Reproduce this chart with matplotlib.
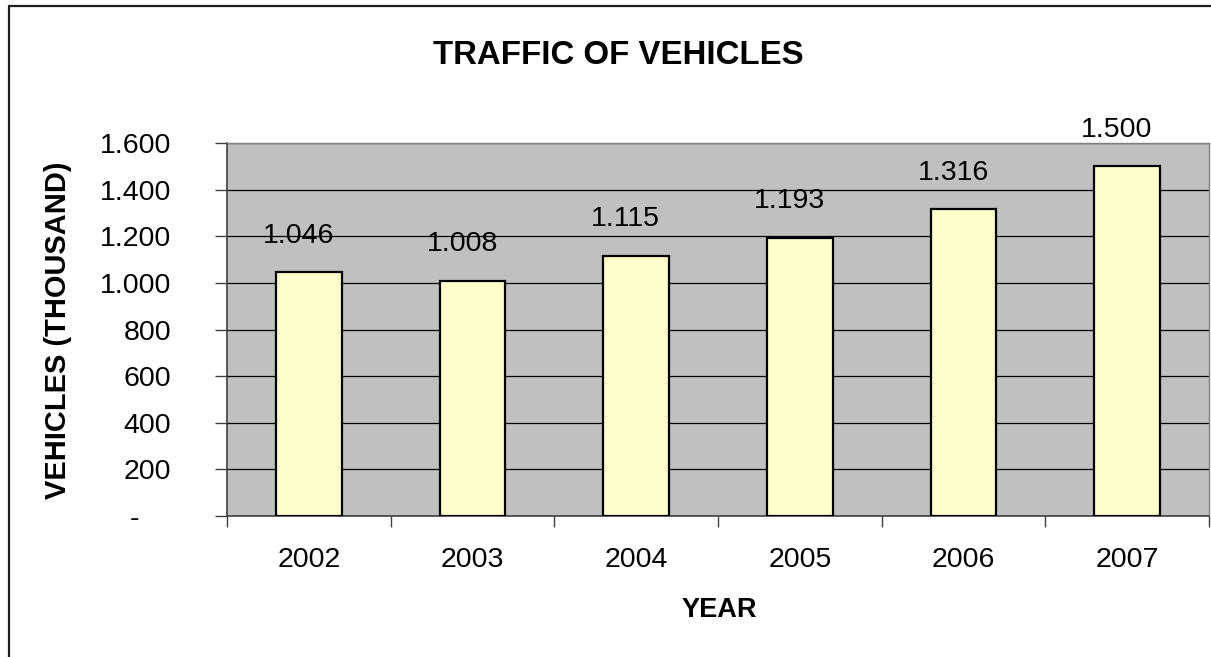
import matplotlib
matplotlib.use("Agg")
import matplotlib.pyplot as plt
from matplotlib.patches import Rectangle
from matplotlib.ticker import FixedLocator, FuncFormatter
import numpy as np

years = ["2002", "2003", "2004", "2005", "2006", "2007"]
vehicles = [1046, 1008, 1115, 1193, 1316, 1500]
yticks = [0, 200, 400, 600, 800, 1000, 1200, 1400, 1600]

plt.rcParams['font.family'] = ['Liberation Sans', 'DejaVu Sans']

W, H = 1211, 657
fig = plt.figure(figsize=(W / 100, H / 100), dpi=100)
ax = fig.add_axes([227 / W, 1 - 516 / H, (1209 - 227) / W, (516 - 143) / H])

ax.set_facecolor('#C0C0C0')
x = np.arange(len(years))
bars = ax.bar(x, vehicles, width=0.4, color='#FFFFCC', edgecolor='black', linewidth=1.6, zorder=3)

ax.set_xlim(-0.5, len(years) - 0.5)
ax.set_ylim(0, 1600)
ax.yaxis.set_major_locator(FixedLocator(yticks))
ax.yaxis.grid(True, color='black', linewidth=0.9, zorder=1)
ax.set_axisbelow(True)


def fmt(v, pos=None):
    if v == 0:
        return '-    '
    return f"{int(v):,}".replace(',', '.')


NUM_FS = 20.5
ax.yaxis.set_major_formatter(FuncFormatter(fmt))
ax.tick_params(axis='y', direction='out', length=9, width=1, color='#404040', labelsize=NUM_FS, pad=31)

# x: category-boundary ticks, labels centered
ax.set_xticks(np.arange(-0.5, len(years) + 0.5, 1.0))
ax.set_xticklabels([])
ax.set_xticks(x, minor=True)
ax.set_xticklabels(years, minor=True)
ax.tick_params(axis='x', which='major', direction='out', length=8, width=1, color='#404040')
ax.tick_params(axis='x', which='minor', length=0, labelsize=NUM_FS, pad=22)

for s in ['top', 'right']:
    ax.spines[s].set_color('#808080')
    ax.spines[s].set_linewidth(1)
for s in ['left', 'bottom']:
    ax.spines[s].set_color('#404040')
    ax.spines[s].set_linewidth(1.2)

for xi, v in zip(x, vehicles):
    ax.annotate(fmt(v), (xi, v), xytext=(-7.5, 17), textcoords='offset points',
                ha='center', va='bottom', fontsize=NUM_FS, zorder=4)

fig.text(618 / W, 1 - 55 / H, 'TRAFFIC OF VEHICLES', ha='center', va='center',
         fontsize=23.8, fontweight='bold')
fig.text(719 / W, 1 - 610 / H, 'YEAR', ha='center', va='center',
         fontsize=19.5, fontweight='bold')
fig.text(58 / W, 1 - 330 / H, 'VEHICLES (THOUSAND)', ha='center', va='center',
         rotation=90, fontsize=20.9, fontweight='bold')

fig.patches.append(Rectangle((9 / W, -0.1), 1.2, 1 - 6 / H + 0.1, transform=fig.transFigure,
                             fill=False, edgecolor='#202020', linewidth=1.6))

fig.savefig('out.png', dpi=100)
